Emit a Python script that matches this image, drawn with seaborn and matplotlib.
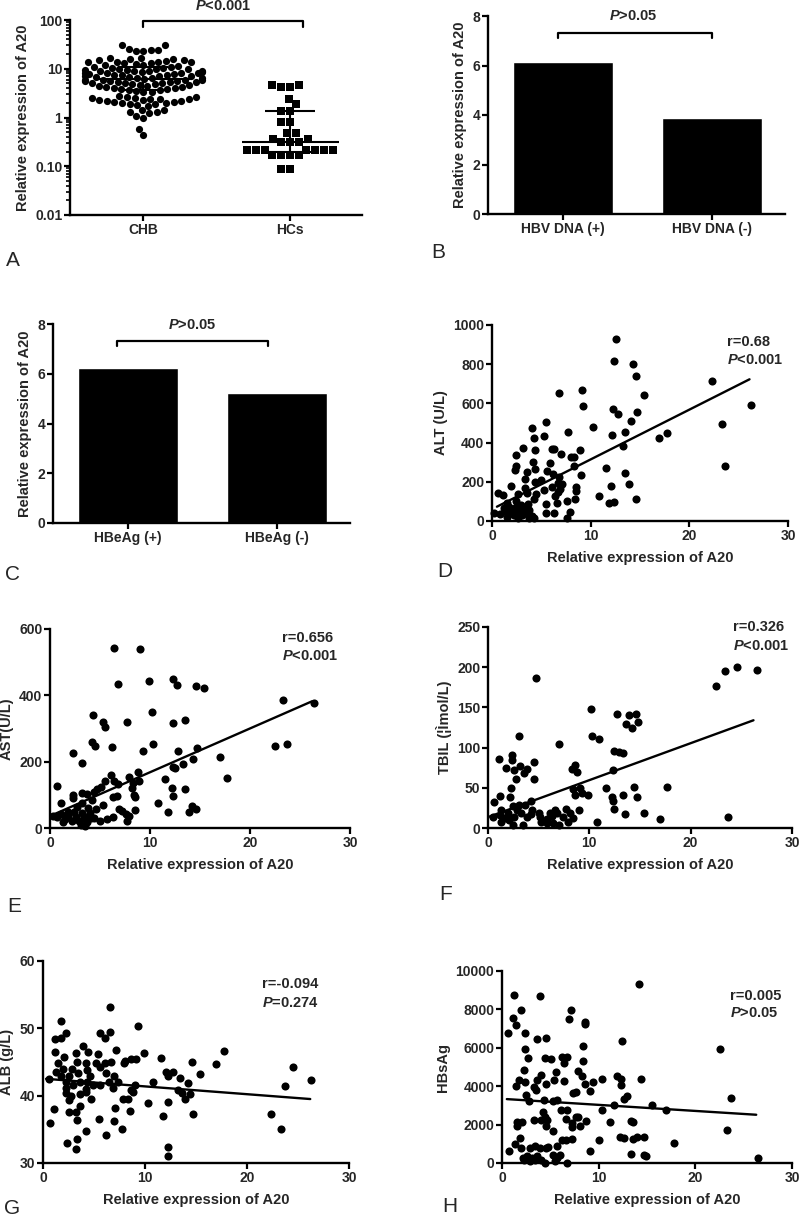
import numpy as np
import pandas as pd
import matplotlib
matplotlib.use("Agg")
import matplotlib.pyplot as plt
from matplotlib.ticker import LogLocator, NullFormatter, FixedLocator
import seaborn as sns

# ---------------- data ----------------
groups_a = ["CHB", "HCs"]
chb_vals = [24, 23.5, 30, 26, 31, 23, 24.5,
            16.5, 15.5, 15.5, 16.5,
            15, 14.5, 14, 14, 13.5, 13, 13, 12.5, 12, 12, 11.5, 11, 11, 10.5, 10.5, 10, 10, 9.8, 9.5, 9.5,
            9.2, 9, 9, 8.8, 13.8, 14.8,
            8.5, 8.3, 8.2, 8, 8, 7.8, 7.6, 7.5, 7.3, 7.2, 7, 7, 6.8, 6.6, 6.5, 6.4, 6.2, 6, 6, 5.9,
            5.8, 5.7, 5.6, 8.4, 7.9, 6.9,
            5.5, 5.4, 5.3, 5.2, 5.1, 5, 4.9, 4.8, 4.7, 4.6, 4.5, 4.4, 4.3, 4.2, 4.1, 4, 3.9, 3.8, 3.7,
            3.6, 3.5, 3.4, 3.3, 5.45,
            2.7, 2.65, 2.6, 2.55, 2.5, 2.45, 2.4, 2.35, 2.3, 2.25, 2.2, 2.15, 2.1, 2.05, 2.0, 1.95, 1.9,
            1.85, 1.8, 1.75,
            1.4, 1.3, 1.05, 1.0, 1.25, 1.3, 1.45,
            0.44, 0.58]
hc_vals = [4.6, 4.2, 4.2, 4.6, 2.36, 1.86, 1.36, 1.36, 0.82, 0.82,
           0.47, 0.37, 0.32, 0.32, 0.32, 0.37, 0.47,
           0.22, 0.22, 0.22, 0.22, 0.22, 0.22, 0.22,
           0.17, 0.17, 0.17, 0.17, 0.086, 0.086]
chb_stats = [3.7, 6.3, 11.0]     # q1, median, q3
hc_stats = [0.20, 0.31, 1.36]
log_minor_ticks = [0.02, 0.03, 0.04, 0.05, 0.06, 0.07, 0.08, 0.09,
                   0.2, 0.3, 0.4, 0.5, 0.6, 0.7, 0.8, 0.9,
                   2, 3, 4, 5, 6, 7, 8, 9,
                   20, 30, 40, 50, 60, 70, 80, 90]

cats_b = ["HBV DNA (+)", "HBV DNA (-)"]
vals_b = [6.13, 3.89]
cats_c = ["HBeAg (+)", "HBeAg (-)"]
vals_c = [6.24, 5.24]

alt_x = [12.6, 12.4, 14.3, 14.6, 22.3, 9.1, 6.8, 9.2, 15.4, 26.3,
         12.3, 12.8, 14.7, 14.1, 5.5, 10.2, 4.1, 23.3, 17.7, 16.9,
         12.2, 13.5, 7.7, 5.3, 4.3, 13.3, 3.1, 4.4, 6.3, 6.1,
         8.9, 7.0, 2.4, 8.0, 8.3, 4.2, 2.4, 5.9, 11.6, 23.6,
         8.3, 2.3, 3.5, 4.4, 5.6, 13.5, 9.0, 6.2, 6.8, 3.3,
         5.0, 4.4, 6.7, 13.9, 7.1, 1.9, 12.1, 8.5, 6.1, 3.3,
         6.9, 5.3, 8.5, 6.7, 4.5, 3.5, 2.6, 1.1, 0.6, 10.8,
         6.4, 7.6, 8.4, 4.3, 14.6, 11.9, 12.4, 6.6, 5.5, 2.4,
         2.9, 1.7, 3.6, 1.5, 5.5, 6.3, 7.9, 0.2, 0.8, 1.3,
         2.1, 2.2, 2.8, 3.0, 3.4, 3.8, 4.1, 2.6, 1.5, 3.7,
         7.6, 4.3, 1.8, 2.7, 2.4, 3.4, 1.2]
alt_y = [927, 818, 801, 740, 714, 668, 655, 588, 643, 592,
         573, 544, 556, 512, 505, 478, 473, 495, 447, 425,
         440, 454, 454, 434, 425, 383, 372, 364, 369, 369,
         360, 342, 335, 328, 325, 299, 282, 298, 272, 279,
         282, 262, 250, 263, 253, 247, 235, 241, 224, 214,
         209, 199, 196, 189, 187, 180, 177, 175, 173, 168,
         165, 156, 153, 148, 138, 141, 138, 133, 141, 126,
         128, 104, 114, 111, 112, 90, 97, 92, 87, 100,
         82, 73, 87, 94, 42, 39, 46, 42, 36, 49,
         60, 29, 56, 31, 41, 56, 26, 15, 22, 17,
         14, 14, 39, 39, 73, 73, 65]
alt_fit_x = [0.5, 26.1]
alt_fit_y = [73, 723]

ast_x = [6.4, 9.0, 6.8, 9.9, 12.3, 12.7, 14.6, 15.4, 23.3, 26.4,
         10.2, 4.3, 5.3, 5.5, 7.7, 13.5, 12.3, 4.2, 4.5, 6.2,
         10.3, 9.3, 12.8, 22.5, 23.7, 2.3, 3.2, 14.7, 14.3, 13.3,
         17.0, 12.3, 12.5, 6.1, 7.9, 8.8, 11.5, 17.7, 5.5, 6.4,
         8.9, 8.3, 6.8, 5.1, 4.7, 8.2, 12.2, 13.5, 0.7, 3.2,
         2.3, 4.4, 3.7, 8.4, 8.5, 6.3, 6.7, 12.3, 2.3, 4.2,
         1.1, 3.2, 5.3, 10.8, 2.7, 3.8, 4.6, 6.9, 7.2, 8.5,
         11.8, 13.9, 14.2, 14.6, 7.6, 7.9, 7.7, 6.3, 5.7, 5.0,
         0.3, 0.7, 1.1, 1.5, 1.8, 2.2, 2.6, 2.9, 3.2, 3.4,
         3.7, 4.1, 3.1, 3.5, 4.0, 1.3, 4.4, 3.7, 1.8, 2.4]
ast_y = [543, 541, 433, 444, 450, 431, 428, 423, 385, 377,
         351, 342, 321, 306, 321, 325, 316, 259, 247, 245,
         254, 233, 232, 248, 253, 227, 197, 240, 209, 194,
         215, 185, 180, 160, 153, 168, 148, 152, 142, 143,
         142, 136, 134, 125, 119, 121, 120, 118, 126, 106,
         101, 109, 102, 101, 94, 92, 96, 96, 90, 84,
         76, 74, 70, 74, 62, 60, 56, 57, 52, 55,
         49, 49, 66, 57, 42, 35, 21, 33, 28, 21,
         37, 33, 41, 26, 36, 21, 34, 22, 46, 31,
         17, 29, 8, 6, 46, 17, 31, 34, 49, 48]
ast_fit_x = [0.3, 26.2]
ast_fit_y = [40, 382]

tbil_x = [4.7, 26.5, 24.6, 23.4, 22.5, 10.2, 12.7, 13.9, 14.6, 14.8,
          13.6, 14.2, 11.0, 10.3, 3.1, 7.0, 12.4, 12.9, 13.3, 1.1,
          2.4, 2.4, 3.2, 3.8, 4.5, 1.8, 2.6, 3.6, 8.6, 8.3,
          8.8, 12.3, 2.8, 4.5, 2.3, 2.2, 1.2, 8.4, 9.1, 8.6,
          9.9, 9.3, 11.6, 12.2, 12.3, 12.4, 13.3, 14.4, 14.7, 17.7,
          4.2, 0.6, 2.5, 3.1, 3.7, 4.3, 1.3, 2.0, 0.5, 1.2,
          1.7, 2.1, 2.6, 3.3, 3.8, 4.2, 1.3, 3.5, 2.5, 5.1,
          5.8, 6.3, 6.8, 7.4, 7.7, 8.1, 8.4, 6.6, 5.8, 6.4,
          7.0, 5.2, 9.0, 10.8, 13.5, 15.4, 17.0, 23.7, 6.1, 5.0,
          7.9, 2.0, 2.9]
tbil_y = [187, 197, 200, 195, 177, 148, 142, 141, 142, 132,
          129, 125, 111, 115, 115, 105, 96, 95, 93, 86,
          91, 85, 77, 74, 82, 75, 72, 69, 78, 74,
          70, 72, 61, 61, 50, 39, 40, 48, 50, 41,
          41, 43, 50, 39, 33, 24, 41, 51, 39, 51,
          34, 32, 27, 28, 29, 23, 23, 19, 14, 16,
          13, 10, 14, 19, 14, 17, 7, 4, 4, 14,
          11, 15, 19, 14, 24, 19, 12, 23, 6, 6,
          4, 7, 23, 7, 17, 19, 11, 14, 19, 19,
          8, 14, 23]
tbil_fit_x = [0.1, 26.2]
tbil_fit_y = [14, 134]

alb_x = [6.6, 1.8, 9.3, 1.2, 1.8, 2.3, 5.6, 6.6, 6.1, 17.7,
         9.9, 3.9, 3.2, 4.4, 7.2, 5.4, 17.0, 24.5, 14.6, 11.6,
         1.2, 2.1, 3.3, 4.2, 5.2, 6.1, 6.7, 8.0, 8.6, 9.1,
         7.9, 15.4, 26.3, 0.6, 1.3, 1.8, 2.5, 2.8, 3.4, 4.3,
         4.6, 5.6, 6.2, 7.0, 12.1, 12.7, 12.3, 13.4, 10.8, 14.2,
         23.7, 2.3, 2.9, 3.6, 4.3, 4.9, 5.6, 6.5, 7.4, 9.0,
         2.3, 4.2, 6.9, 8.6, 8.8, 13.2, 13.6, 14.4, 2.3, 3.6,
         4.2, 2.5, 4.7, 7.8, 8.3, 10.3, 12.3, 13.9, 1.1, 2.5,
         3.6, 7.1, 8.5, 14.7, 22.4, 11.8, 3.2, 0.7, 3.3, 5.5,
         7.0, 4.2, 7.7, 6.2, 23.3, 2.4, 3.3, 3.2, 12.3, 12.3,
         2.7, 2.0, 1.5]
alb_y = [53.2, 51.1, 50.4, 48.4, 48.5, 49.3, 49.3, 49.5, 48.5, 46.6,
         46.4, 47.4, 46.4, 46.5, 46.8, 46.2, 44.7, 44.3, 45.0, 45.6,
         46.5, 45.7, 45.0, 44.9, 44.9, 44.8, 45.0, 45.2, 45.5, 45.4,
         44.8, 43.2, 42.3, 42.5, 43.5, 42.9, 42.9, 43.9, 43.3, 43.8,
         42.9, 44.3, 43.3, 42.9, 43.5, 43.5, 42.9, 42.6, 42.0, 41.9,
         41.5, 42.1, 41.6, 42.1, 42.0, 41.6, 41.6, 42.1, 42.0, 41.6,
         41.1, 41.0, 41.1, 40.9, 40.6, 40.9, 40.4, 40.3, 40.4, 40.3,
         40.5, 39.4, 39.5, 39.5, 39.5, 38.9, 39.1, 39.5, 38.0, 37.6,
         38.4, 38.2, 37.7, 37.3, 37.3, 37.0, 37.6, 35.9, 36.4, 36.5,
         36.2, 34.7, 35.0, 34.1, 35.0, 33.0, 33.5, 32.1, 32.4, 31.1,
         39.9, 44.0, 44.8]
alb_fit_x = [0.3, 26.2]
alb_fit_y = [42.5, 39.5]

hbs_x = [14.2, 1.2, 3.9, 2.0, 7.1, 1.1, 6.9, 1.4, 8.6, 8.6,
         0.6, 2.4, 3.6, 4.5, 12.4, 22.5, 2.4, 8.4, 2.7, 4.4,
         5.1, 6.2, 6.7, 6.4, 8.4, 2.3, 5.6, 7.9, 11.9, 8.3,
         1.4, 1.8, 2.4, 4.0, 3.6, 4.5, 5.4, 6.4, 8.6, 9.4,
         10.3, 12.3, 12.3, 14.4, 3.3, 3.5, 9.1, 7.3, 7.7, 2.5,
         2.8, 4.3, 5.3, 5.7, 12.6, 12.9, 23.7, 11.6, 15.5, 17.0,
         10.3, 6.1, 4.2, 4.4, 3.3, 4.0, 4.7, 6.7, 6.6, 7.2,
         7.7, 7.9, 1.6, 2.1, 1.5, 8.7, 8.1, 11.2, 13.3, 13.6,
         7.2, 4.6, 5.3, 23.3, 6.2, 6.6, 7.2, 12.2, 12.6, 13.6,
         14.0, 14.7, 1.9, 3.4, 2.9, 3.9, 4.5, 4.8, 5.7, 1.3,
         2.0, 10.0, 9.1, 17.8, 0.7, 5.3, 6.0, 13.3, 14.7, 14.9,
         2.2, 2.6, 3.1, 3.4, 3.6, 4.0, 4.4, 5.5, 5.7, 6.7,
         26.5, 2.3, 2.9]
hbs_y = [9324, 8752, 8700, 7972, 7972, 7539, 7504, 7192, 7366, 7244,
         6759, 6794, 6447, 6534, 6378, 5945, 5945, 6118, 5494, 5494,
         5425, 5546, 5546, 5199, 5338, 4818, 4749, 4766, 4541, 4541,
         3986, 4333, 4194, 4558, 4333, 4125, 4333, 4246, 4108, 4194,
         4367, 4367, 4055, 4367, 3951, 3813, 3726, 3640, 3709, 3536,
         3224, 3258, 3241, 3293, 3328, 3466, 3362, 3033, 2998, 2738,
         2773, 2738, 2669, 2392, 2253, 2253, 2253, 2738, 2288, 2080,
         2409, 2392, 2149, 2114, 1941, 2166, 1906, 2149, 2166, 2114,
         1872, 1906, 1646, 1698, 1213, 1213, 1248, 1352, 1300, 1248,
         1334, 1334, 1282, 901, 780, 780, 780, 832, 866, 1005,
         780, 1178, 641, 1022, 607, 433, 433, 485, 433, 381,
         260, 347, 243, 173, 347, 173, 0, 87, 260, 0,
         260, 173, 87]
hbs_fit_x = [0.5, 26.3]
hbs_fit_y = [3328, 2513]

# ---------------- style ----------------
sns.set_style("ticks")
plt.rcParams['font.family'] = ['Liberation Sans', 'DejaVu Sans']
plt.rcParams['font.weight'] = 'bold'
plt.rcParams['axes.labelweight'] = 'bold'
plt.rcParams['mathtext.fontset'] = 'custom'
plt.rcParams['mathtext.it'] = 'Liberation Sans:italic:bold'
plt.rcParams['mathtext.rm'] = 'Liberation Sans:bold'
plt.rcParams['mathtext.bf'] = 'Liberation Sans:bold'
plt.rcParams['ytick.minor.visible'] = False

W, H = 800, 1220
fig = plt.figure(figsize=(8, 12.2), dpi=100)


def add_ax(left, top, right, bottom):
    return fig.add_axes([left / W, 1 - bottom / H, (right - left) / W, (bottom - top) / H])


def style(ax, ylabel, xlabel=""):
    sns.despine(ax=ax)
    for s in ['left', 'bottom']:
        ax.spines[s].set_linewidth(1.7)
        ax.spines[s].set_color('black')
    ax.tick_params(axis='both', which='major', width=1.6, length=4,
                   labelsize=10, color='black', pad=1.5)
    ax.set_ylabel(ylabel, fontsize=10.5, fontweight='bold', labelpad=4)
    ax.set_xlabel(xlabel, fontsize=10.5, fontweight='bold', labelpad=6)
    ax.grid(False)


def bracket(ax, x0, x1, ytop, ybot, text, ytext, xtext):
    sns.lineplot(x=[x0, x0, x1, x1], y=[ybot, ytop, ytop, ybot], sort=False,
                 color='black', lw=1.6, ax=ax, estimator=None)
    for ln in ax.lines[-1:]:
        ln.set_clip_on(False)
    ax.text(xtext, ytext, text, ha='center', va='center', fontsize=10.5,
            fontweight='bold', clip_on=False)


# ---- A ----
axA = add_ax(70, 20, 362, 215)
sns.swarmplot(x=["CHB"] * len(chb_vals), y=chb_vals, order=groups_a, color='black',
              size=5.2, marker='o', linewidth=0, log_scale=True, ax=axA)
sns.swarmplot(x=["HCs"] * len(hc_vals), y=hc_vals, order=groups_a, color='black',
              size=6.2, marker='s', linewidth=0, log_scale=True, ax=axA)
for pos, st in zip([0, 1], [chb_stats, hc_stats]):
    axA.hlines(st[1], pos - 0.33, pos + 0.33, color='black', lw=1.5, zorder=5)
    axA.vlines(pos, st[0], st[2], color='black', lw=1.5, zorder=5)
    axA.hlines([st[0], st[2]], pos - 0.17, pos + 0.17, color='black', lw=1.5, zorder=5)
axA.set_ylim(0.01, 100)
axA.set_xlim(-0.5, 1.49)
axA.set_yticks([0.01, 0.1, 1, 10, 100])
axA.set_yticklabels(["0.01", "0.10", "1", "10", "100"])
style(axA, "Relative expression of A20")
axA.yaxis.set_minor_locator(FixedLocator(log_minor_ticks))
axA.yaxis.set_minor_formatter(NullFormatter())
axA.tick_params(axis='y', which='minor', left=True, width=1.2, length=3, color='black')
bracket(axA, 0, 1.09, 95, 72, "$P$<0.001", 190, 0.545)

# ---- B ----
axB = add_ax(488, 16, 785, 214)
sns.barplot(x=cats_b, y=vals_b, color='black', saturation=1, width=0.67, ax=axB)
axB.set_ylim(0, 8)
axB.set_xlim(-0.503, 1.49)
axB.set_yticks([0, 2, 4, 6, 8])
style(axB, "Relative expression of A20")
bracket(axB, -0.03, 1.0, 7.33, 7.13, "$P$>0.05", 8.0, 0.47)

# ---- C ----
axC = add_ax(53, 324, 350, 523)
sns.barplot(x=cats_c, y=vals_c, color='black', saturation=1, width=0.67, ax=axC)
axC.set_ylim(0, 8)
axC.set_xlim(-0.5, 1.49)
axC.set_yticks([0, 2, 4, 6, 8])
style(axC, "Relative expression of A20")
bracket(axC, -0.07, 0.94, 7.33, 7.12, "$P$>0.05", 7.96, 0.43)


def scatter_panel(box, xs, ys, fx, fy, ylim, yticks, ylabel, rtxt, ptxt, tx, ty1, ty2):
    ax = add_ax(*box)
    sns.scatterplot(x=xs, y=ys, color='black', s=34, linewidth=0, ax=ax, clip_on=False, zorder=3)
    sns.lineplot(x=fx, y=fy, color='black', lw=1.7, ax=ax, estimator=None)
    ax.set_xlim(0, 30)
    ax.set_ylim(*ylim)
    ax.set_xticks([0, 10, 20, 30])
    ax.set_yticks(yticks)
    style(ax, ylabel, "Relative expression of A20")
    ax.text(tx, ty1, rtxt, transform=ax.transAxes, ha='left', va='center', fontsize=10.5, fontweight='bold')
    ax.text(tx, ty2, ptxt, transform=ax.transAxes, ha='left', va='center', fontsize=10.5, fontweight='bold')
    return ax


scatter_panel((492, 325, 788, 521), alt_x, alt_y, alt_fit_x, alt_fit_y, (0, 1000),
              [0, 200, 400, 600, 800, 1000], "ALT (U/L)", "r=0.68", "$P$<0.001", 0.794, 0.913, 0.821)
scatter_panel((50, 629, 350, 828), ast_x, ast_y, ast_fit_x, ast_fit_y, (0, 600),
              [0, 200, 400, 600], "AST(U/L)", "r=0.656", "$P$<0.001", 0.773, 0.955, 0.864)
scatter_panel((488, 627, 792, 828), tbil_x, tbil_y, tbil_fit_x, tbil_fit_y, (0, 250),
              [0, 50, 100, 150, 200, 250], "TBIL (\u00a6\u00ccmol/L)", "r=0.326", "$P$<0.001",
              0.806, 1.0, 0.905)
scatter_panel((43, 961, 349, 1163), alb_x, alb_y, alb_fit_x, alb_fit_y, (30, 60),
              [30, 40, 50, 60], "ALB (g/L)", "r=-0.094", "$P$=0.274", 0.716, 0.886, 0.792)
scatter_panel((502, 971, 792, 1163), hbs_x, hbs_y, hbs_fit_x, hbs_fit_y, (0, 10000),
              [0, 2000, 4000, 6000, 8000, 10000], "HBsAg", "r=0.005", "$P$>0.05", 0.786, 0.87, 0.781)

# panel letters
for letter, (px, py) in zip("ABCDEFGH", [(13, 260), (438, 253), (13, 575), (445, 572),
                                        (14, 906), (446, 895), (12, 1209), (450, 1207)]):
    fig.text(px / W, 1 - py / H, letter, ha='center', va='center', fontsize=15,
             fontweight='normal')

fig.savefig("out.png", dpi=100, facecolor='white')
